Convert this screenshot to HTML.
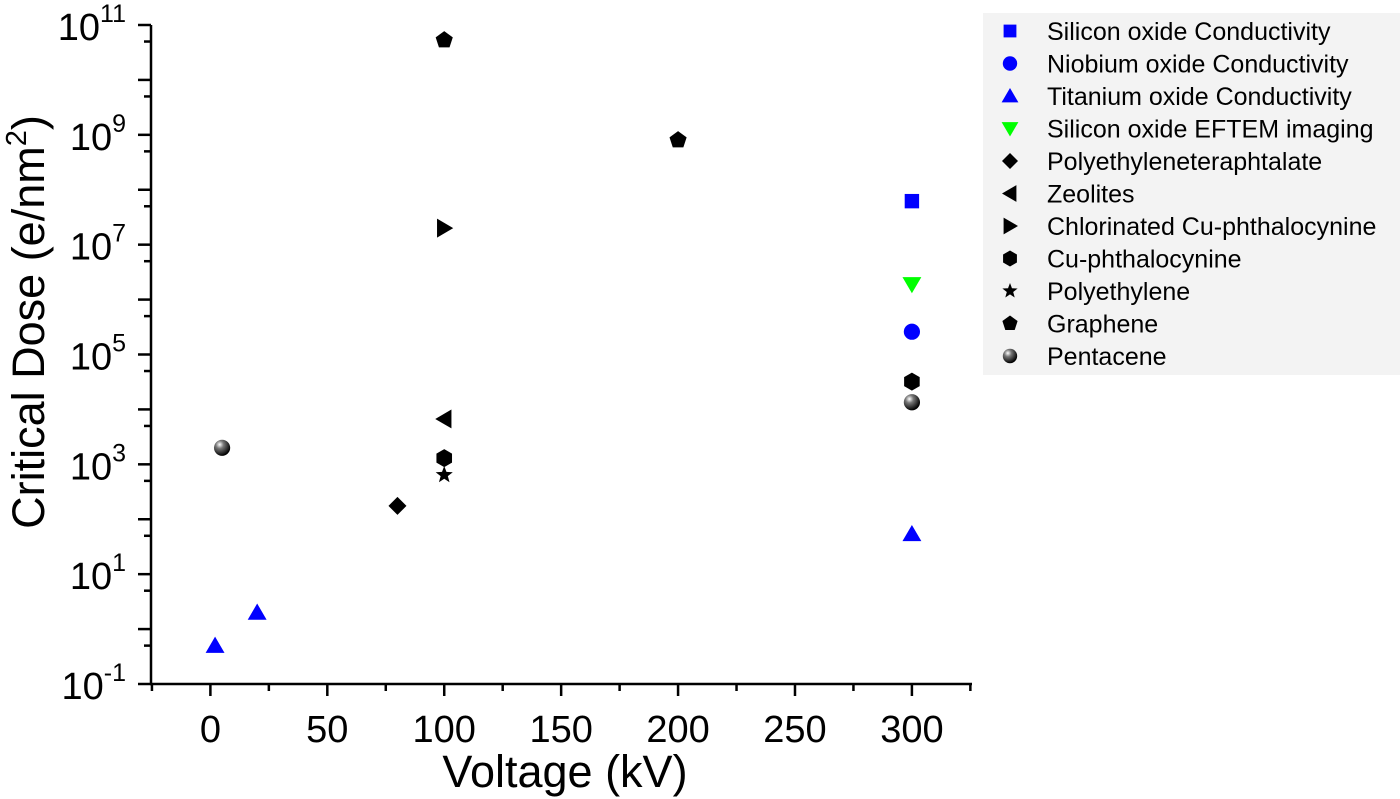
<!DOCTYPE html>
<html><head><meta charset="utf-8"><style>
body{margin:0;background:#fff;}
svg{display:block;font-family:"Liberation Sans",Arial,sans-serif;}
</style></head><body>
<svg id="chart" width="1400" height="799" viewBox="0 0 1400 799">
<defs><radialGradient id="sph" cx="0.35" cy="0.3" r="0.7"><stop offset="0" stop-color="#fff"/><stop offset="0.35" stop-color="#777"/><stop offset="1" stop-color="#000"/></radialGradient></defs>
<g id="axes"></g><g id="marks"></g><g id="legend"></g>
</svg>
<script>
const xTicks=[0,50,100,150,200,250,300];
const yDecadesLabeled=[-1,1,3,5,7,9,11];
const seriesNames=["Silicon oxide Conductivity","Niobium oxide Conductivity","Titanium oxide Conductivity","Silicon oxide EFTEM imaging","Polyethyleneteraphtalate","Zeolites","Chlorinated Cu-phthalocynine","Cu-phthalocynine","Polyethylene","Graphene","Pentacene"];
const seriesShapes=["square","circle","triUp","triDown","diamond","triLeft","triRight","hexagon","star","pentagon","sphere"];
const seriesColors=["#0000ff","#0000ff","#0000ff","#00ff00","#000","#000","#000","#000","#000","#000","#000"];
const sioX=[300], sioY=[6.2e7];
const nbX=[300], nbY=[2.6e5];
const tiX=[2,20,300], tiY=[0.5,2,54];
const eftemX=[300], eftemY=[1.9e6];
const petX=[80], petY=[175];
const zeoX=[100], zeoY=[6700];
const clcuX=[100], clcuY=[2e7];
const cuX=[100,300], cuY=[1300,3.2e4];
const peX=[100], peY=[640];
const grX=[100,200], grY=[5.3e10,8e8];
const penX=[5,300], penY=[2000,1.35e4];
const seriesX=[sioX,nbX,tiX,eftemX,petX,zeoX,clcuX,cuX,peX,grX,penX];
const seriesY=[sioY,nbY,tiY,eftemY,petY,zeoY,clcuY,cuY,peY,grY,penY];

const NS="http://www.w3.org/2000/svg";
const L=151,R=972,T=25,B=684;
const xMin=-25.4,xMax=325.7,yMin=-1,yMax=11;
const sx=v=>L+(v-xMin)/(xMax-xMin)*(R-L);
const sy=v=>B-(Math.log10(v)-yMin)/(yMax-yMin)*(B-T);
function mk(tag,attrs,parent){const e=document.createElementNS(NS,tag);for(const k in attrs)e.setAttribute(k,attrs[k]);parent.appendChild(e);return e;}
const axes=document.getElementById('axes');
let e=mk('line',{x1:L-1,y1:B,x2:R,y2:B,stroke:'#000','stroke-width':2.5},axes);

e=mk('line',{x1:L,y1:B,x2:L,y2:T,stroke:'#000','stroke-width':2.5},axes);

for(let v=-25;v<=325;v+=25){
  const major=v%50===0;
  mk('line',{x1:sx(v),y1:B,x2:sx(v),y2:B+(major?12:7),stroke:'#000','stroke-width':2.5},axes);
}
xTicks.forEach(v=>{const t=mk('text',{x:sx(v),y:742,'font-size':38,'text-anchor':'middle'},axes);t.textContent=v;
});
for(let d=-1;d<=11;d++){
  mk('line',{x1:L,y1:sy(Math.pow(10,d)),x2:L-13,y2:sy(Math.pow(10,d)),stroke:'#000','stroke-width':2.5},axes);
  if(d<11) mk('line',{x1:L,y1:sy(5*Math.pow(10,d)),x2:L-7,y2:sy(5*Math.pow(10,d)),stroke:'#000','stroke-width':2.5},axes);
}
yDecadesLabeled.forEach(d=>{
  const t=mk('text',{x:126,y:sy(Math.pow(10,d))+15,'font-size':38,'text-anchor':'end'},axes);
  
  t.appendChild(document.createTextNode('10'));
  const s=mk('tspan',{'font-size':25,dy:-18},t);s.textContent=d;
});
let t=mk('text',{x:565,y:787,'font-size':45,'text-anchor':'middle'},axes);t.textContent='Voltage (kV)';

t=mk('text',{x:0,y:0,'font-size':45,'text-anchor':'middle',transform:'translate(44,322) rotate(-90)'},axes);

t.appendChild(document.createTextNode('Critical Dose (e/nm'));
let s=mk('tspan',{'font-size':29,dy:-18},t);s.textContent='2';
s=mk('tspan',{dy:18},t);s.textContent=')';

function marker(shape,color,x,y,parent,r){
  r=r||9;let p;
  const poly=pts=>mk('polygon',{points:pts.map(q=>q.join(',')).join(' '),fill:color},parent);
  if(shape==='square')p=mk('rect',{x:x-r*0.8,y:y-r*0.8,width:r*1.6,height:r*1.6,fill:color},parent);
  else if(shape==='circle')p=mk('circle',{cx:x,cy:y,r:r*0.9,fill:color},parent);
  else if(shape==='sphere')p=mk('circle',{cx:x,cy:y,r:r*0.9,fill:'url(#sph)'},parent);
  else if(shape==='triUp')p=poly([[x,y-r],[x+r*1.05,y+r*0.8],[x-r*1.05,y+r*0.8]]);
  else if(shape==='triDown')p=poly([[x,y+r],[x+r*1.05,y-r*0.8],[x-r*1.05,y-r*0.8]]);
  else if(shape==='triLeft')p=poly([[x-r,y],[x+r*0.8,y-r*1.05],[x+r*0.8,y+r*1.05]]);
  else if(shape==='triRight')p=poly([[x+r,y],[x-r*0.8,y-r*1.05],[x-r*0.8,y+r*1.05]]);
  else if(shape==='diamond')p=poly([[x,y-r],[x+r,y],[x,y+r],[x-r,y]]);
  else if(shape==='hexagon'){const a=[];for(let i=0;i<6;i++){const an=Math.PI/6+i*Math.PI/3;a.push([x+r*Math.cos(an),y+r*Math.sin(an)]);}p=poly(a);}
  else if(shape==='pentagon'){const a=[];for(let i=0;i<5;i++){const an=-Math.PI/2+i*2*Math.PI/5;a.push([x+r*Math.cos(an),y+r*Math.sin(an)]);}p=poly(a);}
  else if(shape==='star'){const a=[];for(let i=0;i<10;i++){const an=-Math.PI/2+i*Math.PI/5;const rr=i%2?r*0.42:r;a.push([x+rr*Math.cos(an),y+rr*Math.sin(an)]);}p=poly(a);}
  return p;
}
const marks=document.getElementById('marks');
seriesNames.forEach((n,i)=>{
  seriesX[i].forEach((xv,j)=>{
    const m=marker(seriesShapes[i],seriesColors[i],sx(xv),sy(seriesY[i][j]),marks);
    
    
  });
});
const lg=document.getElementById('legend');
e=mk('rect',{x:983,y:13,width:417,height:362,fill:'#f3f3f3'},lg);

seriesNames.forEach((n,i)=>{
  const y=31+i*32.5;
  const m=marker(seriesShapes[i],seriesColors[i],1010,y,lg,8);
  
  const tt=mk('text',{x:1047,y:y+9,'font-size':25},lg);tt.textContent=n;
  
});
</script>
</body></html>
